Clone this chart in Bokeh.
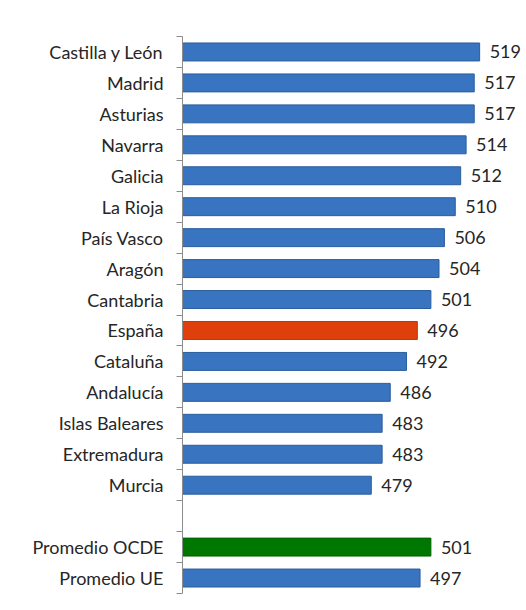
from bokeh.plotting import figure
from bokeh.models import ColumnDataSource, FixedTicker, Range1d
from bokeh.core.properties import value
from bokeh.embed import file_html
from bokeh.resources import INLINE

regions = ["Castilla y León", "Madrid", "Asturias", "Navarra", "Galicia", "La Rioja",
           "País Vasco", "Aragón", "Cantabria", "España", "Cataluña", "Andalucía",
           "Islas Baleares", "Extremadura", "Murcia", "", "Promedio OCDE", "Promedio UE"]
scores = [519, 517, 517, 514, 512, 510, 506, 504, 501, 496, 492, 486, 483, 483, 479, None, 501, 497]
colors = ["#3874c0"] * 9 + ["#df3f0b"] + ["#3874c0"] * 5 + ["#ffffff", "#007700", "#3874c0"]
edges = ["#2b5d9d"] * 9 + ["#c23508"] + ["#2b5d9d"] * 5 + ["#ffffff", "#006200", "#2b5d9d"]

n = len(regions)
ypos = [n - i - 0.5 for i in range(n)]
keep = [i for i in range(n) if scores[i] is not None]

src = ColumnDataSource(dict(
    y=[ypos[i] for i in keep],
    v=[scores[i] for i in keep],
    lab=[str(scores[i]) for i in keep],
    c=[colors[i] for i in keep],
    e=[edges[i] for i in keep],
))

x0 = 409.3
p = figure(width=526, height=602, output_backend="svg", toolbar_location=None,
           x_range=Range1d(x0, 536.3), y_range=Range1d(0, n),
           min_border_left=182, min_border_right=0, min_border_top=36, min_border_bottom=9)
p.outline_line_color = None
p.grid.visible = False
p.xaxis.visible = False
p.background_fill_color = "white"
p.border_fill_color = "white"

p.hbar(y="y", left=x0, right="v", height=0.58, source=src, fill_color="c",
       line_color="e", line_width=1)
p.text(x="v", y="y", text="lab", source=src, x_offset=10, text_baseline="middle",
       text_align="left", text_font=value("Lato"), text_font_size="18px", text_color="#262626")

ax = p.yaxis[0]
ax.ticker = FixedTicker(ticks=ypos, minor_ticks=[float(k) for k in range(n + 1)])
ax.major_label_overrides = {ypos[i]: regions[i] for i in range(n)}
ax.major_tick_out = 0
ax.major_tick_in = 0
ax.minor_tick_out = 6
ax.minor_tick_in = 0
ax.minor_tick_line_color = "#8c8c8c"
ax.axis_line_color = "#8c8c8c"
ax.major_label_standoff = 13
ax.major_label_text_font = "Lato"
ax.major_label_text_font_size = "18px"
ax.major_label_text_color = "#262626"

open("out.html", "w").write(file_html(p, INLINE))
